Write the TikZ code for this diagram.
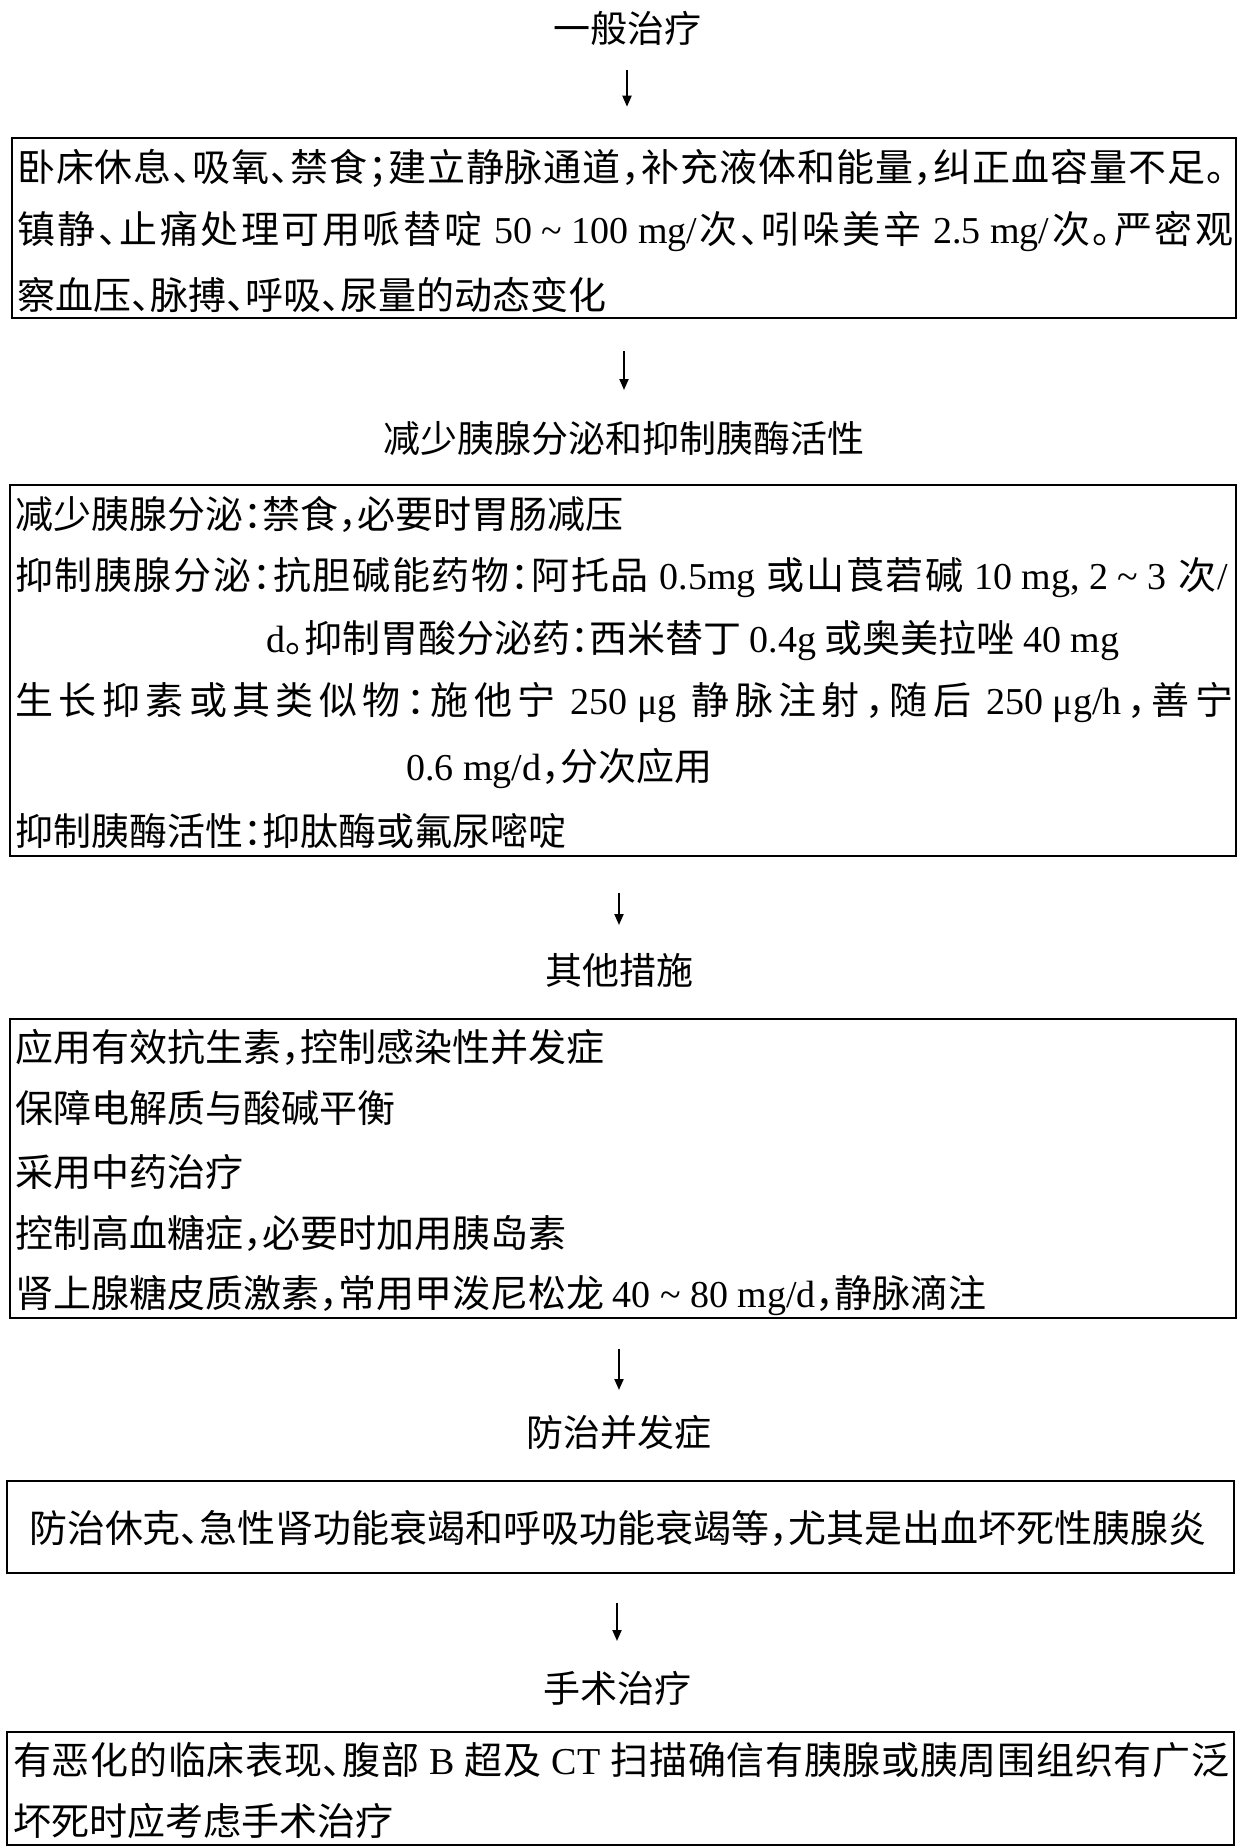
\documentclass[tikz,border=0pt]{standalone}
\usepackage{fontspec}
\usetikzlibrary{arrows.meta}
\setmainfont{Noto Sans CJK SC}[RawFeature={+halt}]
\newfontfamily\latn{Liberation Serif}
\def\spreadloop#1{\ifx\relax#1\else{#1}\hskip0pt plus 1fil\relax\expandafter\spreadloop\fi}
\newcommand\spread[2]{\hbox to #1{\spreadloop#2\relax\unskip}}
\newcommand\ltn[1]{{\latn #1}}
\tikzset{
  box/.style={draw, line width=2.6pt, inner sep=0pt},
  ttl/.style={inner sep=0pt, font=\fontsize{37pt}{44pt}\selectfont},
  txt/.style={inner sep=0pt, anchor=west, font=\fontsize{38pt}{44pt}\selectfont},
  arr/.style={line width=2pt, -{Triangle[length=11pt,width=9pt]}}
}
\begin{document}
\begin{tikzpicture}[x=1pt,y=-1pt]
\useasboundingbox[fill=white] (0,0) rectangle (1242,1848);

% titles
\node[ttl] (t1) at (627,28) {一般治疗};
\node[ttl] (t2) at (624,438) {减少胰腺分泌和抑制胰酶活性};
\node[ttl] (t3) at (619,970) {其他措施};
\node[ttl] (t4) at (619,1432) {防治并发症};
\node[ttl] (t5) at (617,1688) {手术治疗};

% boxes
\node[box, minimum width=1224pt, minimum height=180pt] (b1) at (624,228) {};
\node[box, minimum width=1226pt, minimum height=371pt] (b2) at (623,670.5) {};
\node[box, minimum width=1226pt, minimum height=299pt] (b3) at (623,1168.5) {};
\node[box, minimum width=1227pt, minimum height=92pt] (b4) at (620.5,1527) {};
\node[box, minimum width=1227pt, minimum height=113pt] (b5) at (620.5,1788.5) {};

% box 1 text
\node[txt] (b1a) at (17,168) {\spread{1208pt}{卧床休息、吸氧、禁食；建立静脉通道，补充液体和能量，纠正血容量不足。}};
\node[txt] (b1b) at (17,231) {\spread{1216pt}{镇静、止痛处理可用哌替啶{\latn\ 50 \textasciitilde\ 100 mg/}次、吲哚美辛{\latn\ 2.5 mg/}次。严密观}};
\node[txt] (b1c) at (17,295) {察血压、脉搏、呼吸、尿量的动态变化};

% box 2 text
\node[txt] (b2a) at (15,514) {减少胰腺分泌：禁食，必要时胃肠减压};
\node[txt] (b2b) at (15,577) {\spread{1213pt}{抑制胰腺分泌：抗胆碱能药物：阿托品{\latn\ 0.5mg }或山莨菪碱{\latn\ 10 mg, 2 \textasciitilde\ 3 }次{\latn /}}};
\node[txt] (b2c) at (266,640) {\ltn{d}。抑制胃酸分泌药：西米替丁 \ltn{0.4g} 或奥美拉唑 \ltn{40 mg}};
\node[txt] (b2d) at (15,703) {\spread{1218pt}{生长抑素或其类似物：施他宁{\latn\ 250 μg }静脉注射，随后{\latn\ 250 μg/h}，善宁}};
\node[txt] (b2e) at (406,768) {\ltn{0.6 mg/d}，分次应用};
\node[txt] (b2f) at (15,831) {抑制胰酶活性：抑肽酶或氟尿嘧啶};

% box 3 text
\node[txt] (b3a) at (15,1047) {应用有效抗生素，控制感染性并发症};
\node[txt] (b3b) at (15,1108) {保障电解质与酸碱平衡};
\node[txt] (b3c) at (15,1172) {采用中药治疗};
\node[txt] (b3d) at (15,1233) {控制高血糖症，必要时加用胰岛素};
\node[txt] (b3e) at (15,1295) {肾上腺糖皮质激素，常用甲泼尼松龙 \ltn{40 \textasciitilde\ 80 mg/d}，静脉滴注};

% box 4 text
\node[txt, anchor=center] (b4a) at (618,1528) {防治休克、急性肾功能衰竭和呼吸功能衰竭等，尤其是出血坏死性胰腺炎};

% box 5 text
\node[txt] (b5a) at (13,1760) {\spread{1216pt}{有恶化的临床表现、腹部{\latn\ B }超及{\latn\ CT }扫描确信有胰腺或胰周围组织有广泛}};
\node[txt] (b5b) at (13,1821) {坏死时应考虑手术治疗};

% arrows
\draw[arr, shorten <=42pt, shorten >=30pt] (t1.center) -- (t1.center |- b1.north);
\draw[arr, shorten <=32pt, shorten >=48pt] (b1.south -| t2.center) -- (t2.center);
\draw[arr, shorten <=36pt, shorten >=45pt] (b2.south -| t3.center) -- (t3.center);
\draw[arr, shorten <=30pt, shorten >=42pt] (b3.south -| t4.center) -- (t4.center);
\draw[arr, shorten <=29pt, shorten >=47pt] (b4.south -| t5.center) -- (t5.center);
\end{tikzpicture}
\end{document}
